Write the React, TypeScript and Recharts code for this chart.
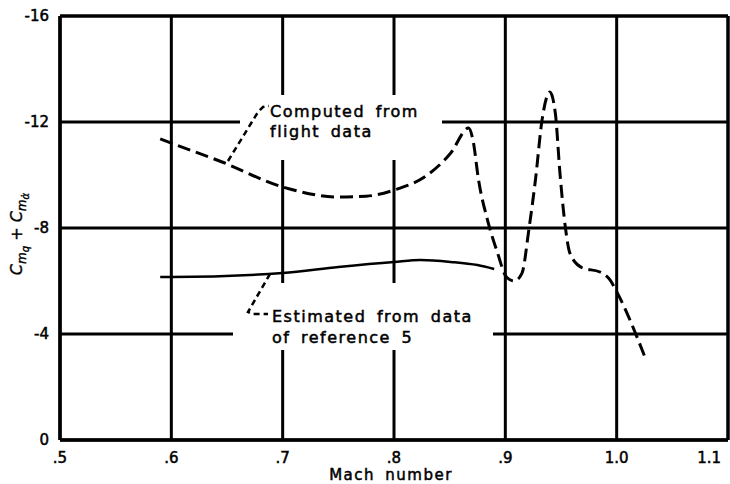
import { LineChart, Line, XAxis, YAxis, CartesianGrid, ReferenceLine } from 'recharts';

// dashed curve: computed from flight data
const machComputed = [0.59, 0.6, 0.645, 0.7, 0.75, 0.775, 0.8, 0.83, 0.851, 0.867, 0.871, 0.876, 0.884, 0.893, 0.901, 0.908, 0.915, 0.921, 0.927, 0.933, 0.94, 0.945, 0.949, 0.954, 0.958, 0.969, 0.985, 0.994, 1.0, 1.025];
const cmComputed = [-11.36, -11.2, -10.5, -9.55, -9.17, -9.2, -9.43, -10.0, -10.83, -11.77, -11.3, -9.8, -8.3, -7.06, -6.15, -6.0, -6.3, -7.9, -9.8, -12.08, -13.13, -12.3, -10.1, -8.0, -7.05, -6.5, -6.34, -6.04, -5.6, -3.17];

// solid curve: estimated from data of reference 5
const machEstimated = [0.59, 0.6, 0.7, 0.75, 0.8, 0.824, 0.851, 0.875, 0.89];
const cmEstimated = [-6.15, -6.15, -6.3, -6.53, -6.72, -6.79, -6.72, -6.6, -6.45];

const machTicks = [0.5, 0.6, 0.7, 0.8, 0.9, 1.0, 1.1];
const cmTicks = [0, -4, -8, -12, -16];

const computedData = machComputed.map((m, i) => ({ mach: m, cm: cmComputed[i] }));
const estimatedData = machEstimated.map((m, i) => ({ mach: m, cm: cmEstimated[i] }));

const font = '"DejaVu Sans", sans-serif';
const fmtMach = (v: number) => (v >= 1 ? v.toFixed(1) : v.toFixed(1).slice(1));

// x tick, the last one pulled in so it stays on the page
const MachTick = (props: any) => {
  const { x, y, payload } = props;
  const last = payload.value >= 1.1;
  return (
    <text x={x} y={y} dy="0.71em" textAnchor={last ? 'end' : 'middle'} dx={last ? 1 : 0}
      fontFamily={font} fontSize={15} fill="#000" stroke="#000" strokeWidth={0.5}>
      {fmtMach(payload.value)}
    </text>
  );
};

export default function App() {
  const txt = { fontFamily: font, fontSize: 16, letterSpacing: 1.5, wordSpacing: 4, fill: '#000', stroke: '#000', strokeWidth: 0.5 };
  return (
    <div style={{ position: 'absolute', left: 0, top: 0, width: 730, height: 484, background: '#fff' }}>
      <LineChart width={730} height={484} margin={{ top: 16, right: 2, bottom: 0, left: 0 }}>
        <CartesianGrid stroke="#000" strokeWidth={3} />
        <XAxis
          dataKey="mach"
          type="number"
          domain={[0.5, 1.1]}
          ticks={machTicks}
          height={44}
          tickLine={false}
          tickMargin={6}
          axisLine={{ stroke: '#000', strokeWidth: 3.5 }}
          tick={<MachTick />}
          allowDuplicatedCategory={false}
        />
        <YAxis
          dataKey="cm"
          type="number"
          domain={[-16, 0]}
          reversed
          ticks={cmTicks}
          width={60}
          tickLine={false}
          tickMargin={5}
          axisLine={{ stroke: '#000', strokeWidth: 3.5 }}
          tick={{ fill: '#000', stroke: '#000', strokeWidth: 0.5, fontFamily: font, fontSize: 15 }}
        />
        <ReferenceLine x={1.1} stroke="#000" strokeWidth={3} />
        <ReferenceLine y={-16} stroke="#000" strokeWidth={3} />

        <g>
          <rect x={240} y={95} width={202} height={65} fill="#fff" />
          <rect x={233} y={283} width={260} height={67} fill="#fff" />
          <text x={270} y={117} {...txt}>Computed from</text>
          <text x={270} y={137} {...txt}>flight data</text>
          <text x={272} y={322} {...txt}>Estimated from data</text>
          <text x={272} y={343} {...txt}>of reference 5</text>
          <polyline points="228,161 258,112 263,107 269,106" fill="none" stroke="#000" strokeWidth={2.5} strokeDasharray="6 4" />
          <polyline points="270,274 248,312 252,314 268,314" fill="none" stroke="#000" strokeWidth={2.5} strokeDasharray="6 4" />
          <text x={391} y={480} textAnchor="middle" fontFamily={font} fontSize={15} letterSpacing={1.5} wordSpacing={4} fill="#000" stroke="#000" strokeWidth={0.5}>Mach number</text>
          <text transform="translate(22,234) rotate(-90)" textAnchor="middle" fontFamily={font} fontSize={16} fontStyle="italic" fill="#000" stroke="#000" strokeWidth={0.4}>
            C<tspan fontSize={12} dy={4}>m</tspan><tspan fontSize={10} dy={3}>q</tspan>
            <tspan fontSize={16} dy={-7}> + C</tspan><tspan fontSize={12} dy={4}>m</tspan><tspan fontSize={10} dy={3}>{'\u03B1\u0307'}</tspan>
          </text>
        </g>

        <Line data={estimatedData} dataKey="cm" type="monotone" stroke="#000" strokeWidth={2.5} dot={false} activeDot={false} isAnimationActive={false} />
        <Line data={computedData} dataKey="cm" type="monotone" stroke="#000" strokeWidth={3} strokeDasharray="13 6" dot={false} activeDot={false} isAnimationActive={false} />
      </LineChart>
    </div>
  );
}
